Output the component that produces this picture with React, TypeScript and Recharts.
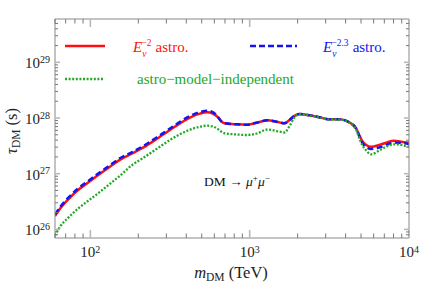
import { LineChart, Line, XAxis, YAxis } from 'recharts'

// dark matter mass in TeV
const mass = [
  60, 65, 73, 83, 96, 111, 130, 154, 183, 214,
  262, 316, 365, 422, 487, 539, 587, 631, 668, 698,
  829, 958, 1106, 1296, 1475, 1655, 1778, 1911, 2054, 2371,
  2738, 3162, 3652, 4039, 4340, 4665, 4870, 5084, 5385, 5788,
  6494, 7182, 8058, 8913, 10000,
]

// lifetime bound (s), E^-2 astro
const tauE2 = [
  1.74e26, 2.42e26, 3.51e26, 4.99e26, 6.81e26, 9.28e26, 1.28e27, 1.79e27, 2.31e27, 2.93e27,
  4.25e27, 6.09e27, 8.03e27, 1.02e28, 1.2e28, 1.27e28, 1.2e28, 1.04e28, 8.58e27, 8.03e27,
  7.71e27, 7.58e27, 8.23e27, 9.09e27, 8.58e27, 8.03e27, 9.21e27, 1.09e28, 1.18e28, 1.12e28,
  1.03e28, 9.48e27, 9.48e27, 8.91e27, 7.97e27, 6.48e27, 4.95e27, 3.87e27, 3.28e27, 3.05e27,
  3.28e27, 3.6e27, 3.91e27, 3.75e27, 3.6e27,
]

// E^-2.3 astro
const tauE23 = [
  1.85e26, 2.58e26, 3.74e26, 5.31e26, 7.25e26, 9.87e26, 1.36e27, 1.91e27, 2.45e27, 3.12e27,
  4.52e27, 6.48e27, 8.54e27, 1.09e28, 1.28e28, 1.35e28, 1.28e28, 1.05e28, 8.58e27, 8.03e27,
  7.71e27, 7.58e27, 8.23e27, 9.09e27, 8.58e27, 8.03e27, 9.21e27, 1.09e28, 1.18e28, 1.12e28,
  1.03e28, 9.48e27, 9.48e27, 8.91e27, 7.97e27, 6.48e27, 4.75e27, 3.63e27, 3.02e27, 2.78e27,
  2.95e27, 3.28e27, 3.63e27, 3.56e27, 3.41e27,
]

// astro-model-independent
const tauFree = [
  7.77e25, 1.15e26, 1.64e26, 2.32e26, 3.2e26, 4.36e26, 6.27e26, 9.28e26, 1.43e27, 1.91e27,
  2.81e27, 4.03e27, 5.12e27, 6.17e27, 6.98e27, 7.27e27, 7.04e27, 6.35e27, 5.61e27, 5.31e27,
  5.06e27, 4.95e27, 5.27e27, 6.22e27, 5.84e27, 5.49e27, 7.18e27, 1.02e28, 1.17e28, 1.11e28,
  1.02e28, 9.4e27, 9.4e27, 8.84e27, 7.81e27, 6.09e27, 4.37e27, 3.28e27, 2.61e27, 2.23e27,
  2.61e27, 3.05e27, 3.37e27, 3.28e27, 3.05e27,
]

const xTicks = [
  60, 70, 80, 90, 100, 200, 300, 400, 500, 600, 700, 800, 900,
  1000, 2000, 3000, 4000, 5000, 6000, 7000, 8000, 9000, 10000,
]
const yTicks = [
  8e25, 9e25, 1e26, 2e26, 3e26, 4e26, 5e26, 6e26, 7e26, 8e26, 9e26,
  1e27, 2e27, 3e27, 4e27, 5e27, 6e27, 7e27, 8e27, 9e27,
  1e28, 2e28, 3e28, 4e28, 5e28, 6e28, 7e28, 8e28, 9e28,
  1e29, 2e29, 3e29, 4e29, 5e29,
]

const data = mass.map((m, i) => ({
  m,
  e2: tauE2[i],
  e23: tauE23[i],
  free: tauFree[i],
}))

const SERIF = '"Liberation Serif", "DejaVu Serif", serif'
const FRAME = '#888888'
const RED = '#ff1010'
const BLUE = '#1414f0'
const GREEN = '#22a822'

const isMajor = (v: number) =>
  Math.abs(Math.log10(v) - Math.round(Math.log10(v))) < 1e-6
const expOf = (v: number) => Math.round(Math.log10(v))

const tickStyle = (major: boolean) => ({
  stroke: major ? '#b8b8b8' : '#777777',
  strokeWidth: major ? 1.6 : 1,
})

const BottomTick = (props: any) => {
  const { x, y, payload } = props
  const major = isMajor(payload.value)
  return (
    <g>
      <line x1={x} x2={x} y1={y} y2={y - (major ? 8 : 4.5)} {...tickStyle(major)} />
      {major && (
        <text x={x} y={y + 19} textAnchor='middle' fontSize={15} fontFamily={SERIF} fill='#222'>
          10
          <tspan dy={-4.5} fontSize={10}>
            {expOf(payload.value)}
          </tspan>
        </text>
      )}
    </g>
  )
}

const TopTick = (props: any) => {
  const { x, y, payload } = props
  const major = isMajor(payload.value)
  return <line x1={x} x2={x} y1={y} y2={y + (major ? 8 : 4.5)} {...tickStyle(major)} />
}

const LeftTick = (props: any) => {
  const { x, y, payload } = props
  const major = isMajor(payload.value)
  return (
    <g>
      <line x1={x} x2={x + (major ? 5 : 3)} y1={y} y2={y} {...tickStyle(major)} />
      {major && (
        <text x={x - 5} y={y + 6} textAnchor='end' fontSize={15} fontFamily={SERIF} fill='#222'>
          10
          <tspan dy={-5.5} fontSize={10}>
            {expOf(payload.value)}
          </tspan>
        </text>
      )}
    </g>
  )
}

const RightTick = (props: any) => {
  const { x, y, payload } = props
  const major = isMajor(payload.value)
  return <line x1={x} x2={x - (major ? 5 : 3)} y1={y} y2={y} {...tickStyle(major)} />
}

const Overlay = () => (
  <svg
    width={421}
    height={285}
    style={{ position: 'absolute', left: 0, top: 0, pointerEvents: 'none' }}
    fontFamily={SERIF}
  >
    {/* legend */}
    <line x1={65} x2={105} y1={46} y2={46} stroke={RED} strokeWidth={2.5} />
    <text x={133} y={52} fontSize={15} fill={RED}>
      <tspan fontStyle='italic'>E</tspan>
      <tspan fontStyle='italic' fontSize={9.5} dy={4.5}>ν</tspan>
      <tspan fontSize={9.5} dx={-5} dy={-11}>−2</tspan>
      <tspan dx={4} dy={6.5}>astro.</tspan>
    </text>
    <line x1={250} x2={297} y1={46} y2={46} stroke={BLUE} strokeWidth={2.5} strokeDasharray='6 3' />
    <text x={323} y={52} fontSize={15} fill={BLUE}>
      <tspan fontStyle='italic'>E</tspan>
      <tspan fontStyle='italic' fontSize={9.5} dy={4.5}>ν</tspan>
      <tspan fontSize={9.5} dx={-5} dy={-11}>−2.3</tspan>
      <tspan dx={4} dy={6.5}>astro.</tspan>
    </text>
    <line x1={65} x2={103} y1={79} y2={79} stroke={GREEN} strokeWidth={2.4} strokeDasharray='2 1.6' />
    <text x={137} y={83.5} fontSize={15} fill={GREEN}>
      astro−model−independent
    </text>

    {/* process */}
    <text x={204} y={186} fontSize={13.5} fill='#111'>
      DM → <tspan fontStyle='italic'>μ</tspan>
      <tspan fontSize={9} dy={-5.5}>+</tspan>
      <tspan fontStyle='italic' dy={5.5}>μ</tspan>
      <tspan fontSize={9} dy={-5.5}>−</tspan>
    </text>

    {/* axis titles */}
    <text x={231} y={278} textAnchor='middle' fontSize={16.5} fill='#222'>
      <tspan fontStyle='italic'>m</tspan>
      <tspan fontSize={11.5} dy={3}>DM</tspan>
      <tspan dy={-3}> (TeV)</tspan>
    </text>
    <text transform='translate(17,131) rotate(-90)' textAnchor='middle' fontSize={16.5} fill='#222'>
      <tspan fontStyle='italic'>τ</tspan>
      <tspan fontSize={11.5} dy={3}>DM</tspan>
      <tspan dy={-3}> (s)</tspan>
    </text>
  </svg>
)

export default function App() {
  return (
    <div style={{ position: 'absolute', left: 0, top: 0, width: 421, height: 285, background: '#fff' }}>
      <LineChart width={421} height={285} data={data} margin={{ top: 18, right: 11, bottom: 46, left: 54 }}>
        <XAxis
          dataKey='m'
          type='number'
          scale='log'
          domain={[60, 10000]}
          allowDataOverflow
          ticks={xTicks}
          interval={0}
          height={1}
          tickSize={0}
          tickMargin={0}
          tickLine={false}
          tick={<BottomTick />}
          axisLine={{ stroke: FRAME }}
        />
        <XAxis
          xAxisId='top'
          orientation='top'
          dataKey='m'
          type='number'
          scale='log'
          domain={[60, 10000]}
          allowDataOverflow
          ticks={xTicks}
          interval={0}
          height={1}
          tickSize={0}
          tickMargin={0}
          tickLine={false}
          tick={<TopTick />}
          axisLine={{ stroke: FRAME }}
        />
        <YAxis
          type='number'
          scale='log'
          domain={[7.0e25, 6.0e29]}
          allowDataOverflow
          ticks={yTicks}
          interval={0}
          width={1}
          tickSize={0}
          tickMargin={0}
          tickLine={false}
          tick={<LeftTick />}
          axisLine={{ stroke: FRAME }}
        />
        <YAxis
          yAxisId='right'
          orientation='right'
          type='number'
          scale='log'
          domain={[7.0e25, 6.0e29]}
          allowDataOverflow
          ticks={yTicks}
          interval={0}
          width={1}
          tickSize={0}
          tickMargin={0}
          tickLine={false}
          tick={<RightTick />}
          axisLine={{ stroke: FRAME }}
        />
        <Line
          dataKey='e2'
          type='monotone'
          stroke={RED}
          strokeWidth={2.5}
          dot={false}
          isAnimationActive={false}
        />
        <Line
          dataKey='e23'
          type='monotone'
          stroke={BLUE}
          strokeWidth={2.5}
          strokeDasharray='6 3.5'
          dot={false}
          isAnimationActive={false}
        />
        <Line
          dataKey='free'
          type='monotone'
          stroke={GREEN}
          strokeWidth={2.3}
          strokeDasharray='2 1.6'
          dot={false}
          isAnimationActive={false}
        />
      </LineChart>
      <Overlay />
    </div>
  )
}
